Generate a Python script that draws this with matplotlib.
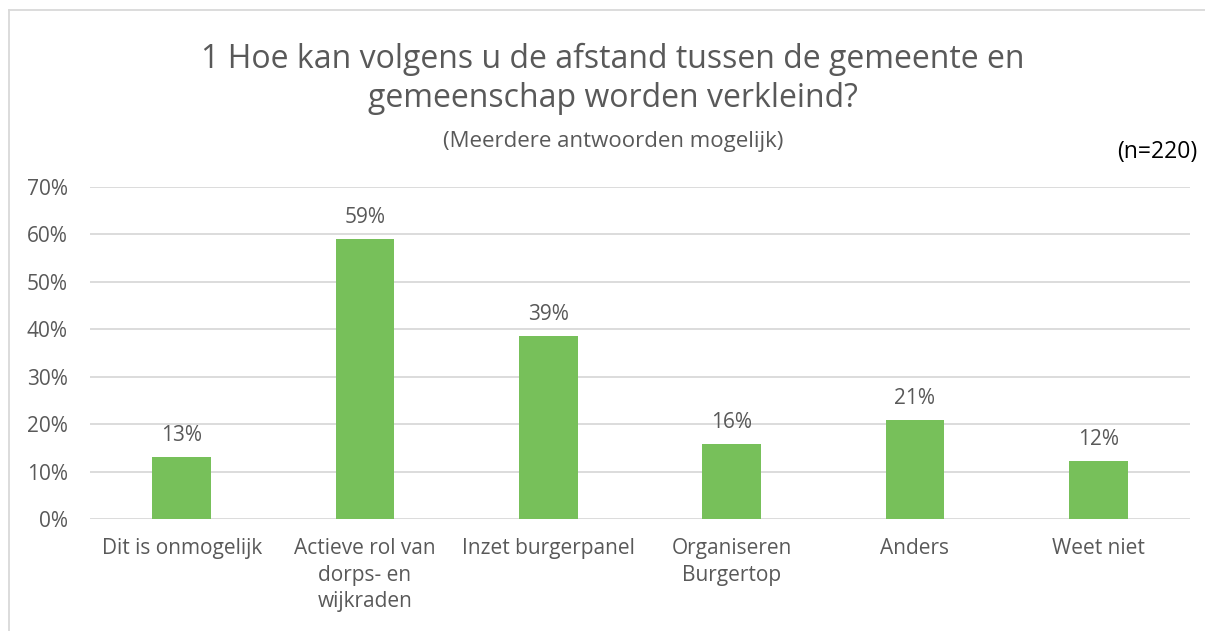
import matplotlib
matplotlib.use("Agg")
import matplotlib.pyplot as plt
from matplotlib.ticker import PercentFormatter, MultipleLocator
from matplotlib.lines import Line2D

categories = ["Dit is onmogelijk", "Actieve rol van\ndorps- en\nwijkraden", "Inzet burgerpanel",
              "Organiseren\nBurgertop", "Anders", "Weet niet"]
values = [13.1, 59.1, 38.6, 15.8, 20.9, 12.2]
labels = ["13%", "59%", "39%", "16%", "21%", "12%"]

title = "1 Hoe kan volgens u de afstand tussen de gemeente en\ngemeenschap worden verkleind?"
subtitle = "(Meerdere antwoorden mogelijk)"
note = "(n=220)"

txt = "#595959"
green = "#77C05A"
grid = "#D9D9D9"
plt.rcParams['font.family'] = ['Open Sans', 'DejaVu Sans']

fig = plt.figure(figsize=(12.05, 6.31), dpi=100)
ax = fig.add_axes([90/1205, 1-519/631, 1100/1205, 332/631])

x = range(len(categories))
ax.bar(x, values, width=0.32, color=green, zorder=3)
for xi, v, l in zip(x, values, labels):
    ax.annotate(l, (xi, v), xytext=(0, 8), textcoords="offset points",
                ha="center", va="bottom", fontsize=15, color=txt)

ax.set_xlim(-0.5, len(categories) - 0.5)
ax.set_ylim(0, 70)
ax.yaxis.set_major_locator(MultipleLocator(10))
ax.yaxis.set_major_formatter(PercentFormatter(decimals=0))
ax.set_xticks(list(x))
ax.set_xticklabels(categories, fontsize=15, color=txt, linespacing=1.32)
ax.tick_params(axis='y', labelsize=15, labelcolor=txt, length=0, pad=16)
ax.tick_params(axis='x', length=0, pad=14)
ax.grid(axis='y', color=grid, linewidth=1.3, zorder=0)
for s in ax.spines.values():
    s.set_visible(False)

fig.text(613/1205, 1-79/631, title, ha="center", va="center", fontsize=23, color=txt, linespacing=1.25)
fig.text(613/1205, 1-141/631, subtitle, ha="center", va="center", fontsize=16, color=txt)
fig.text(1197/1205, 1-152/631, note, ha="right", va="center", fontsize=16.5, color="black")

fig.add_artist(Line2D([9/1205, 9/1205], [0, 1-10/631], color="#D9D9D9", lw=1.3, transform=fig.transFigure))
fig.add_artist(Line2D([9/1205, 1], [1-10/631, 1-10/631], color="#D9D9D9", lw=1.3, transform=fig.transFigure))

fig.savefig("out.png", dpi=100, facecolor="white")
